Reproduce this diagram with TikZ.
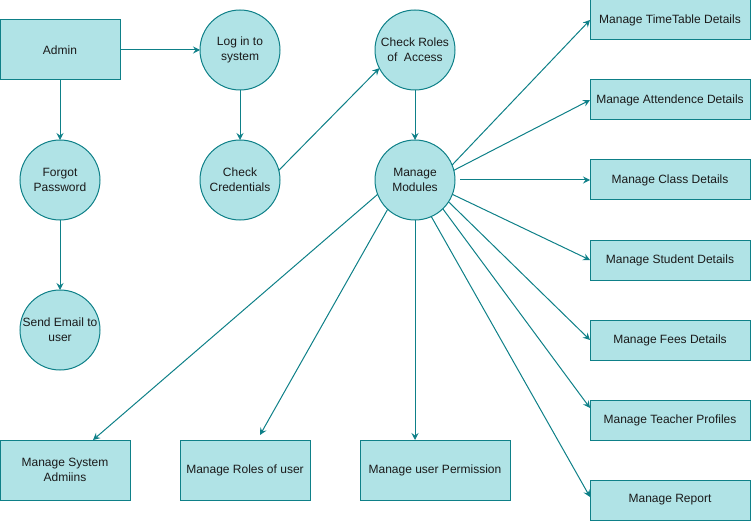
\documentclass[tikz,border=0pt]{standalone}
\usepackage{fontspec}
\setmainfont{Liberation Sans}
\usetikzlibrary{arrows.meta}
\definecolor{fillc}{HTML}{B0E3E6}
\definecolor{linec}{HTML}{0E8088}
\definecolor{txtc}{HTML}{1A1A1A}
\tikzset{
  base/.style={draw=linec, fill=fillc, line width=1pt, text=txtc, align=center,
    font=\fontsize{12}{15}\selectfont, inner sep=0pt, outer sep=0pt},
  proc/.style={base, circle, minimum size=80pt},
  boxa/.style={base, rectangle, minimum width=120pt, minimum height=60pt},
  boxr/.style={base, rectangle, minimum width=160pt, minimum height=40pt},
  boxb/.style={base, rectangle, minimum width=130pt, minimum height=60pt},
  conn/.style={draw=linec, line width=1pt, -{Stealth[length=7pt,width=7pt,inset=2.5pt]}},
}
\begin{document}
\begin{tikzpicture}[x=1pt,y=-1pt]
\useasboundingbox (0,0) rectangle (751,521);
% nodes
\node[boxa] (admin) at (60,50) {Admin};
\node[proc] (login) at (240,50) {Log in to\\system};
\node[proc] (forgot) at (60,180) {Forgot\\Password};
\node[proc] (cc) at (240,180) {Check\\Credentials};
\node[proc] (email) at (60,330) {Send Email to\\user};
\node[proc] (cr) at (415,50) {Check Roles\\of\ \ Access};
\node[proc] (mm) at (415,180) {Manage\\Modules};
\node[boxr] (tt) at (670,20) {Manage TimeTable Details};
\node[boxr] (at) at (670,100) {Manage Attendence Details};
\node[boxr] (cl) at (670,180) {Manage Class Details};
\node[boxr] (st) at (670,260) {Manage Student Details};
\node[boxr] (fe) at (670,340) {Manage Fees Details};
\node[boxr] (te) at (670,420) {Manage Teacher Profiles};
\node[boxr] (re) at (670,500) {Manage Report};
\node[boxb] (sa) at (65,470) {Manage System\\Admiins};
\node[boxb] (ro) at (245,470) {Manage Roles of user};
\node[boxb, minimum width=150pt] (pe) at (435,470) {Manage user Permission};
% connectors
\draw[conn] (admin.east) -- (login.west);
\draw[conn] (admin.south) -- (forgot.north);
\draw[conn] (login.south) -- (cc.north);
\draw[conn] (forgot.south) -- (email.north);
\draw[conn] (cc.14) -- (cr.207);
\draw[conn] (cr.south) -- (mm.north);
\draw[conn] (mm.22) -- (tt.west);
\draw[conn] (mm.14) -- (at.west);
\draw[conn, shorten <=5pt] (mm.east) -- (cl.west);
\draw[conn] (mm.-21) -- (st.west);
\draw[conn] (mm.-33) -- (fe.west);
\draw[conn] (mm.-46) -- ([yshift=12pt]te.west);
\draw[conn] (mm.-66) -- ([yshift=3pt]re.west);
\draw[conn] (mm.201) -- ([xshift=28pt]sa.north);
\draw[conn] (mm.227) -- ([xshift=15pt,yshift=5pt]ro.north);
\draw[conn] (mm.south) -- ([xshift=-20pt]pe.north);
\end{tikzpicture}
\end{document}
